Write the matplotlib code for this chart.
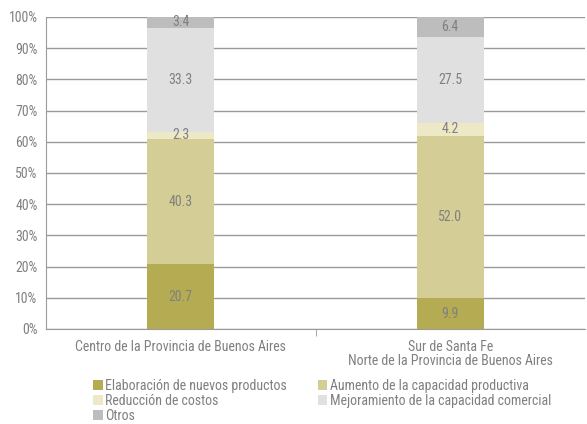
import matplotlib
matplotlib.use("Agg")
import matplotlib.pyplot as plt
from matplotlib import font_manager as fm
import numpy as np

names = {f.name for f in fm.fontManager.ttflist}
fam = 'Roboto'
for cand in ['Roboto Condensed', 'Liberation Sans Narrow', 'Open Sans Condensed', 'Noto Sans Condensed']:
    if cand in names:
        fam = cand
        break
plt.rcParams['font.family'] = [fam, 'DejaVu Sans']

categories = ["Centro de la Provincia de Buenos Aires",
              "Sur de Santa Fe\nNorte de la Provincia de Buenos Aires"]
series_names = ["Elaboración de nuevos productos", "Aumento de la capacidad productiva",
                "Reducción de costos", "Mejoramiento de la capacidad comercial", "Otros"]
elaboracion = [20.7, 9.9]
aumento = [40.3, 52.0]
reduccion = [2.3, 4.2]
mejoramiento = [33.3, 27.5]
otros = [3.4, 6.4]
yticks = [0, 10, 20, 30, 40, 50, 60, 70, 80, 90, 100]

colors = ['#b5ab52', '#d4cd96', '#ede8c6', '#e0e0e0', '#bdbdbd']
txt = '#808080'
fs = 10

fig = plt.figure(figsize=(5.87, 4.24), dpi=100)
ax = fig.add_axes([46/587, 1-329/424, (585-46)/587, (329-17)/424])

x = np.arange(len(categories))
bottom = np.zeros(len(categories))
handles = []
for name, vals, c in zip(series_names, [elaboracion, aumento, reduccion, mejoramiento, otros], colors):
    vals = np.array(vals)
    h = ax.bar(x, vals, 0.25, bottom=bottom, color=c, label=name, zorder=3)
    handles.append(h)
    for xi, b, v in zip(x, bottom, vals):
        ax.text(xi, b + v/2, f"{v:.1f}", ha='center', va='center', fontsize=10, color=txt, zorder=4)
    bottom += vals

ax.set_xlim(-0.5, 1.5)
ax.set_ylim(0, 100)
ax.set_yticks(yticks)
ax.set_yticklabels([f"{t}%" for t in yticks], fontsize=fs, color=txt)
ax.yaxis.grid(True, color='#9a9a9a', linewidth=1, zorder=0)
ax.set_xticks(x)
ax.set_xticklabels(categories, fontsize=fs, color=txt, linespacing=1.0)
ax.set_xticks([0.5], minor=True)
ax.tick_params(axis='x', which='major', length=0, pad=8)
ax.tick_params(axis='x', which='minor', length=5, color='#9a9a9a')
ax.tick_params(axis='y', length=0, pad=6)
for s in ['top', 'right']:
    ax.spines[s].set_visible(False)
for s in ['left', 'bottom']:
    ax.spines[s].set_color('#9a9a9a')

order = [0, 2, 4, 1, 3]
leg = fig.legend([handles[i] for i in order], [series_names[i] for i in order],
                 loc='upper left', bbox_to_anchor=(86/587, 1-372/424), ncol=2, frameon=False,
                 fontsize=fs, handlelength=0.7, handleheight=0.7, handletextpad=0.2,
                 labelspacing=0.08, columnspacing=2.2, borderpad=0, labelcolor=txt)

fig.savefig("out.png", dpi=100)
